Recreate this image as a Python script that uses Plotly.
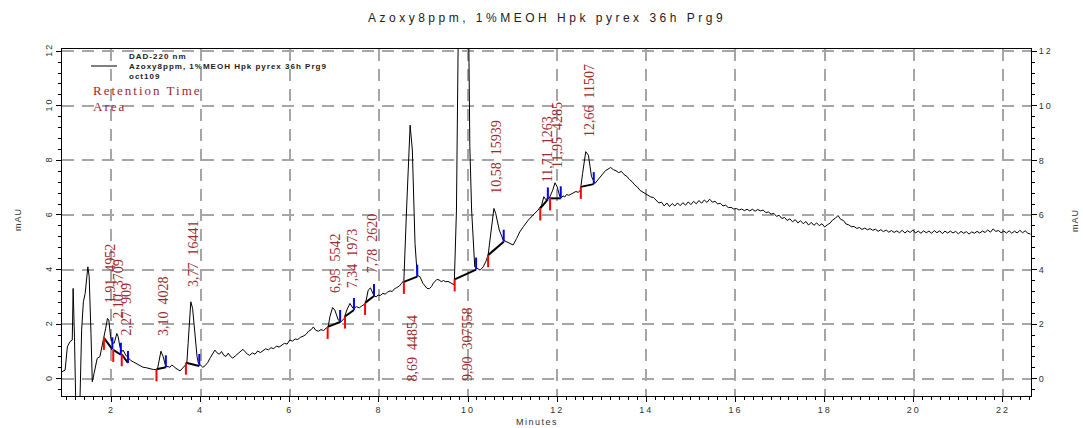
import plotly.graph_objects as go

# ---------------- chromatogram trace (minutes, mAU) ----------------
time_min = [
    0.88, 0.96, 1.01, 1.07, 1.12, 1.14, 1.17, 1.20, 1.29, 1.33,
    1.37, 1.41, 1.47, 1.50, 1.54, 1.57, 1.61, 1.65, 1.68, 1.74,
    1.78, 1.83, 1.87, 1.91, 1.94, 1.98, 2.02, 2.06, 2.12, 2.15,
    2.19, 2.23, 2.26, 2.32, 2.38, 2.44, 2.49, 2.55, 2.60, 2.66,
    2.71, 2.77, 2.83, 2.88, 2.94, 3.03, 3.07, 3.11, 3.16, 3.22,
    3.27, 3.31, 3.35, 3.39, 3.43, 3.46, 3.50, 3.54, 3.58, 3.63,
    3.69, 3.72, 3.78, 3.82, 3.87, 3.92, 3.95,
    3.99, 4.05, 4.10, 4.16, 4.22, 4.27, 4.32, 4.37, 4.42, 4.47,
    4.52, 4.57, 4.62, 4.67, 4.72, 4.78, 4.84, 4.90, 4.95, 5.00,
    5.05, 5.10, 5.16, 5.22, 5.28, 5.34, 5.40, 5.46, 5.52, 5.58,
    5.64, 5.70, 5.76, 5.82, 5.88, 5.94, 6.00, 6.06, 6.12, 6.18,
    6.24, 6.30, 6.36, 6.42, 6.48, 6.53, 6.58, 6.64, 6.70, 6.76,
    6.82,
    6.86, 6.90, 6.96, 7.01, 7.09, 7.14, 7.22, 7.28, 7.35, 7.42,
    7.50, 7.56, 7.61, 7.66, 7.70, 7.76, 7.81, 7.89, 7.94, 7.98,
    8.03, 8.09, 8.14, 8.20, 8.25, 8.30, 8.35, 8.40, 8.46, 8.51,
    8.56,
    8.62, 8.70, 8.75, 8.81, 8.86, 8.92, 8.99, 9.04, 9.08, 9.13,
    9.18, 9.22, 9.26, 9.30, 9.35, 9.40, 9.45, 9.50, 9.55, 9.60,
    9.65, 9.69, 9.74, 9.90, 10.04, 10.08, 10.15, 10.21, 10.27, 10.34,
    10.40, 10.45,
    10.53, 10.58, 10.62, 10.70, 10.79, 10.86, 10.94, 11.01, 11.09, 11.16,
    11.24, 11.35, 11.46, 11.57, 11.65, 11.70, 11.74, 11.82, 11.90, 11.95,
    12.00, 12.06, 12.10, 12.13, 12.17, 12.21, 12.26, 12.32, 12.37, 12.42,
    12.47, 12.52, 12.57, 12.64, 12.70, 12.77, 12.85, 12.94,
    13.00, 13.08, 13.14, 13.20, 13.26, 13.32, 13.38, 13.44, 13.50, 13.56,
    13.62, 13.68, 13.74, 13.80, 13.86, 13.92, 13.98, 14.04, 14.10, 14.16,
    14.22, 14.28, 14.34, 14.40, 14.46, 14.52, 14.58, 14.64, 14.70, 14.76,
    14.82, 14.88, 14.94, 15.00, 15.06, 15.12, 15.18, 15.24, 15.30, 15.36,
    15.42, 15.48, 15.54, 15.60, 15.66, 15.72, 15.78, 15.84, 15.90, 15.96,
    16.02, 16.08, 16.14, 16.20, 16.26, 16.32, 16.38, 16.44, 16.50, 16.56,
    16.62, 16.68, 16.74, 16.80, 16.86, 16.92, 16.98, 17.04, 17.10, 17.16,
    17.22, 17.28, 17.34, 17.40, 17.46, 17.52, 17.58, 17.64, 17.70, 17.76,
    17.82, 17.88, 17.94, 18.00, 18.06, 18.12, 18.18, 18.24, 18.30, 18.36,
    18.42, 18.48, 18.54, 18.60, 18.66, 18.72, 18.78, 18.84, 18.90, 18.96,
    19.02, 19.08, 19.14, 19.20, 19.26, 19.32, 19.38, 19.44, 19.50, 19.56,
    19.62, 19.68, 19.74, 19.80, 19.86, 19.92, 19.98, 20.04, 20.10, 20.16,
    20.22, 20.28, 20.34, 20.40, 20.46, 20.52, 20.58, 20.64, 20.70, 20.76,
    20.82, 20.88, 20.94, 21.00, 21.06, 21.12, 21.18, 21.24, 21.30, 21.36,
    21.42, 21.48, 21.54, 21.60, 21.66, 21.72, 21.78, 21.84, 21.90, 21.96,
    22.02, 22.08, 22.14, 22.20, 22.26, 22.32, 22.38, 22.44, 22.50, 22.56,
    22.62,
]
signal_mau = [
    0.25, 0.32, 1.17, 1.36, 1.42, 3.31, 1.50, -1.0, -1.0, 1.78,
    2.82, 3.13, 4.10, 3.74, 1.66, -0.11, 0.20, 0.50, 0.75, 0.81,
    1.11, 1.44, 1.85, 2.21, 2.15, 1.54, 1.32, 1.30, 1.66, 1.54,
    1.17, 0.99, 1.05, 0.87, 0.75, 0.66, 0.62, 0.56, 0.50, 0.47,
    0.42, 0.41, 0.38, 0.37, 0.34, 0.34, 0.68, 1.01, 0.81, 0.44,
    0.45, 0.42, 0.50, 0.47, 0.40, 0.38, 0.33, 0.29, 0.36, 0.42,
    0.56, 1.30, 2.82, 2.58, 1.66, 0.81, 0.58,
    0.50, 0.42, 0.48, 0.60, 0.78, 0.92, 1.05, 0.95, 0.90, 1.00,
    0.86, 0.82, 0.94, 0.82, 0.76, 0.84, 0.92, 1.02, 1.08, 0.99,
    0.90, 0.86, 0.95, 0.90, 1.02, 0.96, 1.04, 1.10, 1.06, 1.14,
    1.10, 1.20, 1.16, 1.24, 1.30, 1.27, 1.42, 1.38, 1.46, 1.44,
    1.52, 1.56, 1.62, 1.74, 1.80, 1.90, 1.78, 1.74, 1.80, 1.77,
    1.86,
    1.88, 2.27, 2.61, 2.52, 2.15, 2.07, 2.21, 2.52, 2.76, 2.58,
    2.64, 2.60, 2.66, 2.70, 2.76, 3.25, 3.33, 3.04, 3.00, 3.07,
    3.05, 3.13, 3.10, 3.18, 3.22, 3.20, 3.30, 3.34, 3.40, 3.50,
    3.60,
    6.18, 9.29, 8.38, 4.96, 3.80, 3.74, 3.49, 3.38, 3.31, 3.30,
    3.38, 3.50, 3.58, 3.64, 3.62, 3.56, 3.60, 3.55, 3.57, 3.52,
    3.50, 3.44, 6.18, 32.0, 8.50, 6.18, 4.10, 4.04, 3.98, 4.10,
    4.30, 4.53,
    5.57, 6.24, 6.06, 5.45, 5.08, 5.02, 4.96, 4.90, 5.14, 5.38,
    5.57, 5.81, 6.00, 6.18, 6.36, 6.67, 6.57, 6.61, 6.91, 7.18,
    7.03, 6.67, 6.64, 6.70, 6.66, 6.75, 6.72, 6.78, 6.80, 6.86,
    6.83, 6.90, 7.52, 8.32, 8.19, 7.40, 7.16, 7.34,
    7.45, 7.62, 7.68, 7.74, 7.66, 7.62, 7.55, 7.60, 7.48, 7.42,
    7.30, 7.22, 7.10, 7.02, 6.90, 6.84, 6.76, 6.72, 6.66, 6.64,
    6.54, 6.44, 6.47, 6.33, 6.44, 6.31, 6.42, 6.33, 6.44, 6.34,
    6.45, 6.36, 6.48, 6.38, 6.50, 6.41, 6.53, 6.43, 6.55, 6.46,
    6.58, 6.47, 6.50, 6.41, 6.43, 6.33, 6.36, 6.27, 6.28, 6.22,
    6.24, 6.18, 6.22, 6.16, 6.21, 6.15, 6.21, 6.14, 6.20, 6.15,
    6.18, 6.09, 6.11, 6.03, 6.06, 5.95, 5.99, 5.87, 5.91, 5.80,
    5.86, 5.75, 5.83, 5.71, 5.79, 5.68, 5.76, 5.63, 5.73, 5.62,
    5.71, 5.61, 5.68, 5.56, 5.64, 5.70, 5.82, 5.88, 5.98, 5.84,
    5.80, 5.67, 5.64, 5.57, 5.58, 5.51, 5.54, 5.47, 5.52, 5.46,
    5.50, 5.44, 5.48, 5.40, 5.46, 5.39, 5.45, 5.37, 5.43, 5.36,
    5.42, 5.35, 5.44, 5.34, 5.42, 5.36, 5.45, 5.34, 5.41, 5.33,
    5.42, 5.35, 5.41, 5.33, 5.43, 5.35, 5.42, 5.32, 5.41, 5.34,
    5.41, 5.34, 5.40, 5.31, 5.40, 5.33, 5.39, 5.30, 5.38, 5.33,
    5.40, 5.34, 5.41, 5.36, 5.45, 5.37, 5.49, 5.40, 5.43, 5.35,
    5.41, 5.34, 5.42, 5.33, 5.41, 5.34, 5.44, 5.35, 5.42, 5.33,
    5.30,
]

# ---------------- integration results ----------------
peak_rt = [1.91, 2.10, 2.27, 3.10, 3.77, 6.95, 7.34, 7.78, 8.69, 9.90, 10.58, 11.71, 11.95, 12.66]
peak_area = [4952, 3709, 909, 4028, 16441, 5542, 1973, 2620, 44854, 307558, 15939, 1263, 4285, 11507]
peak_apex = [2.21, 1.66, 1.05, 1.01, 2.82, 2.61, 2.76, 3.33, 9.29, 32.0, 6.24, 6.67, 7.18, 8.32]
base_start_t = [1.83, 2.04, 2.23, 3.01, 3.67, 6.85, 7.24, 7.69, 8.56, 9.70, 10.45, 11.62, 11.84, 12.53]
base_start_y = [1.50, 1.06, 0.90, 0.35, 0.59, 1.90, 2.28, 2.78, 3.55, 3.64, 4.53, 6.24, 6.61, 7.03]
base_end_t = [2.02, 2.21, 2.37, 3.22, 3.97, 7.13, 7.44, 7.89, 8.86, 10.18, 10.80, 11.79, 12.08, 12.82]
base_end_y = [1.08, 0.88, 0.58, 0.42, 0.47, 2.08, 2.52, 3.03, 3.74, 4.00, 5.02, 6.57, 6.61, 7.13]

x_tick_vals = [2, 4, 6, 8, 10, 12, 14, 16, 18, 20, 22]
y_tick_vals = [0, 2, 4, 6, 8, 10, 12]

title_text = "Azoxy8ppm, 1%MEOH Hpk pyrex 36h Prg9"
legend_lines = ["DAD-220 nm", "Azoxy8ppm, 1%MEOH Hpk pyrex 36h Prg9", "oct109"]

SANS = "Liberation Sans, Arial, sans-serif"
SERIF = "Liberation Serif, Times New Roman, serif"
LABEL_RED = "#9e2a2b"
TICK_LEN = 0.44


def spaced(s, ls):
    return f'<span style="letter-spacing:{ls}px">{s}</span>'


fig = go.Figure()

# signal
fig.add_trace(go.Scatter(x=time_min, y=signal_mau, mode="lines",
                         line=dict(color="black", width=1), hoverinfo="skip"))

# baselines
bx, by = [], []
for t0, y0, t1, y1 in zip(base_start_t, base_start_y, base_end_t, base_end_y):
    bx += [t0, t1, None]
    by += [y0, y1, None]
fig.add_trace(go.Scatter(x=bx, y=by, mode="lines", line=dict(color="black", width=2), hoverinfo="skip"))

# start (red, downward) and end (blue, upward) markers
rx, ry, ux, uy = [], [], [], []
for t0, y0 in zip(base_start_t, base_start_y):
    rx += [t0, t0, None]
    ry += [y0, y0 - TICK_LEN, None]
for t1, y1 in zip(base_end_t, base_end_y):
    ux += [t1, t1, None]
    uy += [y1, y1 + TICK_LEN, None]
fig.add_trace(go.Scatter(x=rx, y=ry, mode="lines", line=dict(color="#ff0000", width=2), hoverinfo="skip"))
fig.add_trace(go.Scatter(x=ux, y=uy, mode="lines", line=dict(color="#0000ff", width=2), hoverinfo="skip"))

# dummy for right axis
fig.add_trace(go.Scatter(x=[time_min[0]], y=[signal_mau[0]], yaxis="y2", mode="lines",
                         line=dict(width=0), hoverinfo="skip", showlegend=False))

annotations = []
for rt, area, apex in zip(peak_rt, peak_area, peak_apex):
    txt = f"{rt:.2f}".replace(".", ",") + "\u00a0\u00a0" + str(area)
    if apex > 9:
        ypos = -0.16
    else:
        ypos = apex + 0.47
    annotations.append(dict(x=rt + 0.07, y=ypos, xref="x", yref="y", text=txt, showarrow=False,
                            textangle=-90, xanchor="center", yanchor="bottom",
                            font=dict(family=SERIF, size=14, color=LABEL_RED)))

# title
annotations.append(dict(x=0.5005, y=1.089, xref="paper", yref="paper",
                        text=spaced(title_text, 3.5), showarrow=False,
                        xanchor="center", yanchor="middle",
                        font=dict(family=SANS, size=12, color="#222222")))
# legend block
for i, line in enumerate(legend_lines):
    annotations.append(dict(x=0.0671, y=0.977 - i * 0.0288, xref="paper", yref="paper",
                            text="<b>" + spaced(line, 1.0) + "</b>", showarrow=False,
                            xanchor="left", yanchor="middle",
                            font=dict(family=SANS, size=8, color="#222222")))
annotations.append(dict(x=0.0299, y=0.879, xref="paper", yref="paper",
                        text=spaced("Retention Time", 2), showarrow=False,
                        xanchor="left", yanchor="middle",
                        font=dict(family=SERIF, size=13, color=LABEL_RED)))
annotations.append(dict(x=0.0299, y=0.833, xref="paper", yref="paper",
                        text=spaced("Area", 2), showarrow=False,
                        xanchor="left", yanchor="middle",
                        font=dict(family=SERIF, size=13, color=LABEL_RED)))
# axis titles
annotations.append(dict(x=-0.0454, y=0.507, xref="paper", yref="paper", text=spaced("mAU", 1),
                        showarrow=False, textangle=-90, xanchor="center", yanchor="middle",
                        font=dict(family=SANS, size=9, color="#333333")))
annotations.append(dict(x=1.0454, y=0.507, xref="paper", yref="paper", text=spaced("mAU", 1),
                        showarrow=False, textangle=-90, xanchor="center", yanchor="middle",
                        font=dict(family=SANS, size=9, color="#333333")))
annotations.append(dict(x=0.490, y=-0.075, xref="paper", yref="paper", text=spaced("Minutes", 1.5),
                        showarrow=False, xanchor="center", yanchor="middle",
                        font=dict(family=SANS, size=9, color="#333333")))

shapes = [dict(type="line", xref="paper", yref="paper", x0=0.0299, x1=0.0568, y0=0.951, y1=0.951,
               line=dict(color="black", width=1))]

grid = dict(showgrid=True, gridcolor="#a6a6a6", gridwidth=1.5, griddash="12px,8px")
tickfont = dict(family=SANS, size=9, color="#333333")

fig.update_layout(
    width=1083, height=428,
    margin=dict(l=62, r=52, t=49, b=32),
    paper_bgcolor="white", plot_bgcolor="white",
    showlegend=False,
    annotations=annotations, shapes=shapes,
    xaxis=dict(range=[0.89, 22.63], tickmode="array", tickvals=x_tick_vals,
               ticktext=[spaced(str(v), 2) for v in x_tick_vals],
               ticks="outside", ticklen=5, tickcolor="black", tickwidth=1,
               showline=True, linecolor="black", linewidth=1, mirror=True,
               zeroline=False, tickfont=tickfont,
               minor=dict(tickmode="linear", tick0=0, dtick=0.2, ticks="outside", ticklen=3,
                          tickcolor="black", showgrid=False),
               **grid),
    yaxis=dict(range=[-0.63, 12.08], tickmode="array", tickvals=y_tick_vals,
               ticktext=[spaced(str(v), 2) for v in y_tick_vals], tickangle=-90,
               ticks="outside", ticklen=5, tickcolor="black", tickwidth=1,
               showline=True, linecolor="black", linewidth=1,
               zeroline=False, tickfont=tickfont,
               minor=dict(tickmode="linear", tick0=0, dtick=0.4, ticks="outside", ticklen=3,
                          tickcolor="black", showgrid=False),
               **grid),
    yaxis2=dict(range=[-0.63, 12.08], overlaying="y", side="right", tickmode="array",
                tickvals=y_tick_vals, ticktext=[spaced(str(v), 2) for v in y_tick_vals],
                ticks="outside", ticklen=5, tickcolor="black", tickwidth=1,
                showline=True, linecolor="black", linewidth=1, showgrid=False,
                zeroline=False, tickfont=tickfont,
                minor=dict(tickmode="linear", tick0=0, dtick=0.4, ticks="outside", ticklen=3,
                           tickcolor="black", showgrid=False)),
)

fig.write_html("out.html")
